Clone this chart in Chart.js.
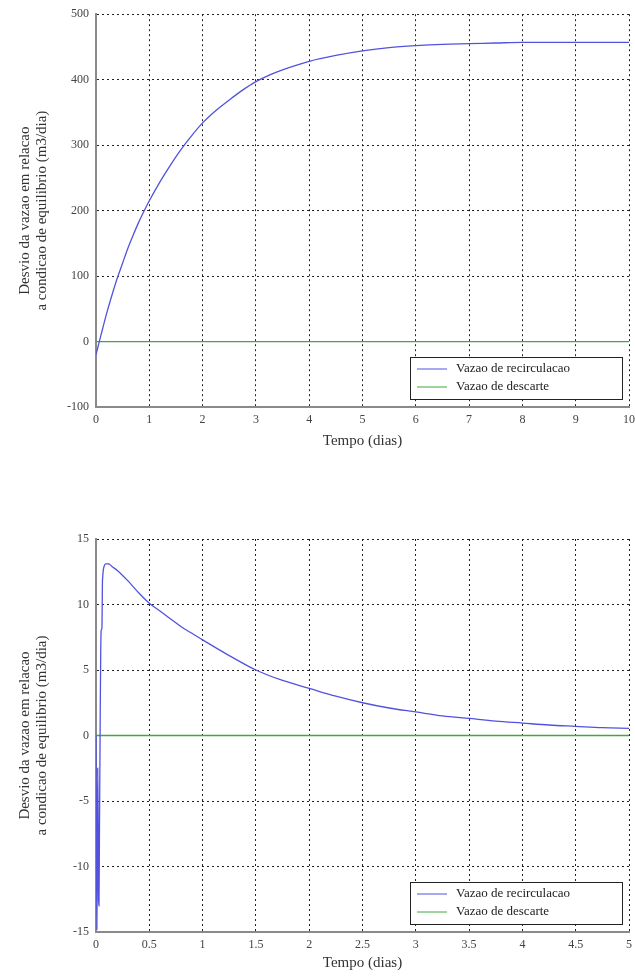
<!DOCTYPE html>
<html>
<head>
<meta charset="utf-8">
<script src="https://cdn.jsdelivr.net/npm/chart.js@4.4.0/dist/chart.umd.min.js"></script>
<style>
  body { margin: 0; background: #fff; }
  .box { width: 635px; height: 488px; }
  canvas { display: block; }
</style>
</head>
<body>
<div class="box"><canvas id="top" width="635" height="488"></canvas></div>
<div class="box"><canvas id="bottom" width="635" height="488"></canvas></div>
<script>
// data
var seriesNames = ['Vazao de recirculacao', 'Vazao de descarte'];
var yTitle = ['Desvio da vazao em relacao', 'a condicao de equilibrio (m3/dia)'];
var xTitle = 'Tempo (dias)';

// top plot
var recT1 = [0, 0.05, 0.1, 0.2, 0.3, 0.4, 0.5, 0.6, 0.7, 0.8, 0.9, 1.0, 1.2, 1.4, 1.6, 1.8, 2.0, 2.25, 2.5, 2.75, 3.0, 3.25, 3.5, 4.0, 4.5, 5.0, 5.5, 6.0, 6.5, 7.0, 7.5, 8.0, 9.0, 10.0];
var recV1 = [-20, -4, 12, 43, 71, 97, 120, 143, 163, 182, 199, 215, 244, 270, 294, 315, 334, 353, 369, 384, 397, 407, 415, 428, 437, 444, 449, 452, 454, 455, 456, 457, 457, 457];
var desT1 = [0, 10];
var desV1 = [0, 0];

// bottom plot
var recT2 = [0, 0.004, 0.008, 0.012, 0.016, 0.02, 0.024, 0.028, 0.032, 0.036, 0.04, 0.044, 0.048, 0.052, 0.056, 0.06, 0.064, 0.068, 0.072, 0.08, 0.09, 0.1, 0.12, 0.15, 0.2, 0.3, 0.4, 0.5, 0.6, 0.7, 0.8, 0.9, 1.0, 1.25, 1.5, 1.75, 2.0, 2.25, 2.5, 2.75, 3.0, 3.25, 3.5, 3.75, 4.0, 4.25, 4.5, 4.75, 5.0];
var recV2 = [0, -7, -14.8, -11, -2.5, -6, -12.5, -13, -8, -3, 2, 6, 8, 8.1, 8.2, 11.5, 12.2, 12.6, 12.8, 13.0, 13.1, 13.1, 13.1, 12.9, 12.6, 11.8, 10.9, 10.1, 9.5, 8.9, 8.3, 7.8, 7.3, 6.1, 5.0, 4.2, 3.6, 3.0, 2.5, 2.1, 1.8, 1.5, 1.3, 1.1, 0.95, 0.8, 0.7, 0.6, 0.55];
var desT2 = [0, 5];
var desV2 = [0, 0];

var blue = '#5252e0';
var green = '#3fa83f';
var serif = "'Liberation Serif', 'DejaVu Serif', serif";

function pts(xs, ys) {
  var out = [];
  for (var i = 0; i < xs.length; i++) {
    out.push({x: xs[i], y: ys[i]});
  }
  return out;
}

// legend box inside the plot, bottom right
var boxLegend = {
  id: 'boxLegend',
  afterDatasetsDraw: function(chart) {
    var ctx = chart.ctx;
    var a = chart.chartArea;
    var w = 212, h = 42;
    var x = a.right - 7 - w, y = a.bottom - 8 - h;
    ctx.save();
    ctx.fillStyle = '#fff';
    ctx.fillRect(x, y, w, h);
    ctx.strokeStyle = '#222';
    ctx.lineWidth = 1;
    ctx.strokeRect(x + 0.5, y + 0.5, w, h);
    ctx.font = '13px ' + serif;
    ctx.textBaseline = 'middle';
    chart.data.datasets.forEach(function(ds, i) {
      var ly = y + 12 + i * 18;
      ctx.strokeStyle = ds.borderColor;
      ctx.beginPath();
      ctx.moveTo(x + 7, ly);
      ctx.lineTo(x + 37, ly);
      ctx.stroke();
      ctx.fillStyle = '#222';
      ctx.fillText(ds.label, x + 46, ly);
    });
    ctx.restore();
  }
};

function plain(v) {
  return String(Math.round(v * 100) / 100);
}

function makeChart(id, recT, recV, desT, desV, xMax, xStep, yMin, yMax, yStep, padTop, padBottom, xHeight) {
  var ctx = document.getElementById(id).getContext('2d');
  return new Chart(ctx, {
    type: 'line',
    data: {
      datasets: [{
        label: seriesNames[0],
        data: pts(recT, recV),
        borderColor: blue,
        borderWidth: 1.3,
        pointRadius: 0,
        cubicInterpolationMode: 'monotone'
      }, {
        label: seriesNames[1],
        data: pts(desT, desV),
        borderColor: green,
        borderWidth: 1.3,
        pointRadius: 0,
        tension: 0
      }]
    },
    options: {
      responsive: false,
      animation: false,
      layout: { padding: { top: padTop, right: 0, bottom: padBottom, left: 16 } },
      plugins: { legend: { display: false }, tooltip: { enabled: false } },
      scales: {
        x: {
          type: 'linear',
          min: 0,
          max: xMax,
          afterFit: function(s) { s.height = xHeight; s.paddingRight = 6; },
          ticks: { stepSize: xStep, padding: 6, maxRotation: 0, color: '#444', callback: plain, font: { family: serif, size: 12 } },
          grid: { color: '#222', lineWidth: 1, tickLength: 0, drawTicks: false },
          border: { display: true, color: '#8a8a8a', width: 2, dash: [2, 3] },
          title: { display: true, text: xTitle, color: '#333', padding: 0, font: { family: serif, size: 15 } }
        },
        y: {
          min: yMin,
          max: yMax,
          afterFit: function(s) { s.width = 80; },
          ticks: { stepSize: yStep, padding: 7, color: '#444', callback: plain, font: { family: serif, size: 12 } },
          grid: { color: '#222', lineWidth: 1, tickLength: 0, drawTicks: false },
          border: { display: true, color: '#8a8a8a', width: 2, dash: [2, 3] },
          title: { display: true, text: yTitle, color: '#333', padding: 0, font: { family: serif, size: 15, lineHeight: 1.15 } }
        }
      }
    },
    plugins: [boxLegend]
  });
}

makeChart('top', recT1, recV1, desT1, desV1, 10, 1, -100, 500, 100, 14, 38, 43);
makeChart('bottom', recT2, recV2, desT2, desV2, 5, 0.5, -15, 15, 5, 51, 4, 40);
</script>
</body>
</html>
